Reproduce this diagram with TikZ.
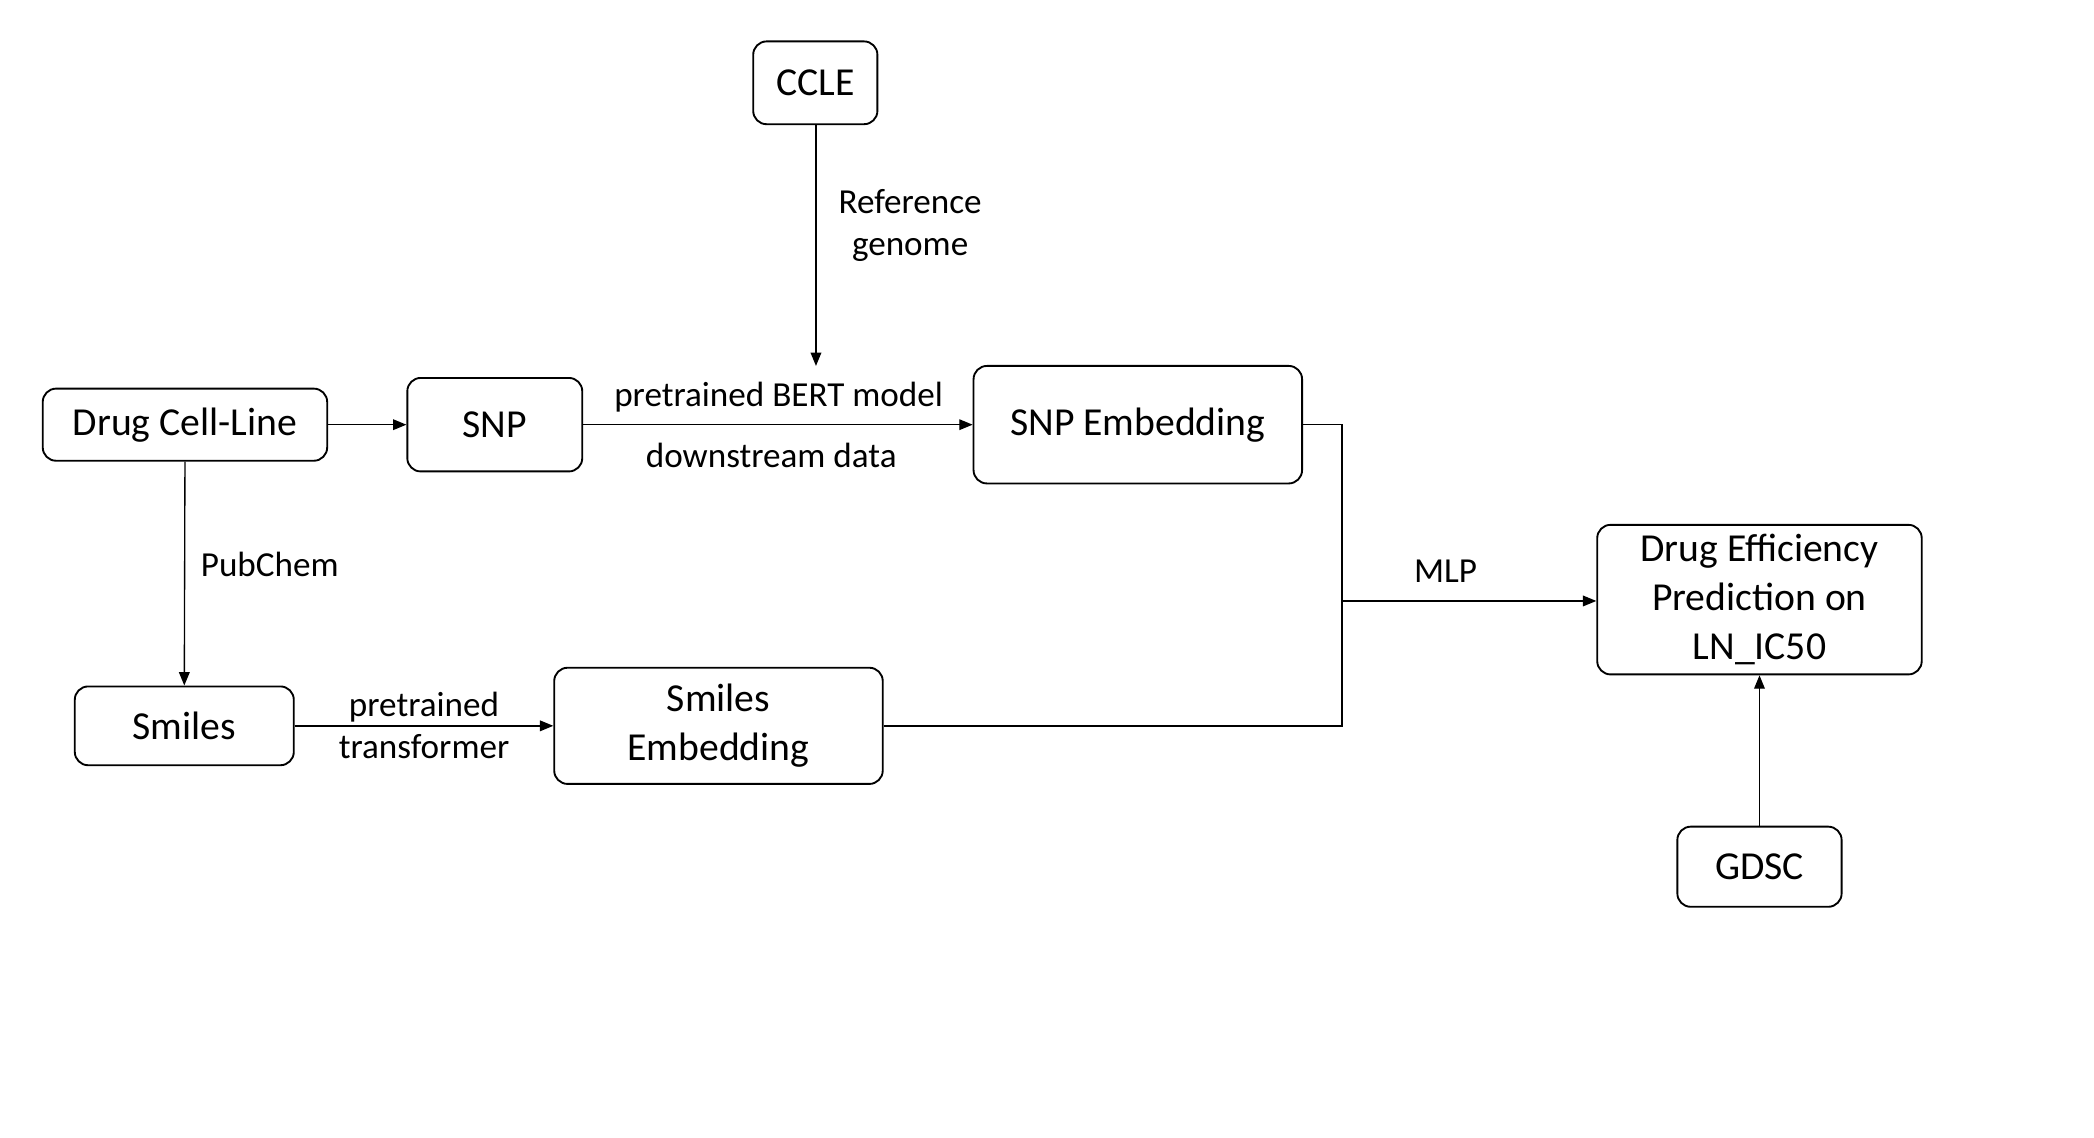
\documentclass[tikz,border=0pt]{standalone}
\usepackage{fontspec}
\setmainfont{Carlito}
\usetikzlibrary{arrows.meta}
\begin{document}
\begin{tikzpicture}[x=1pt,y=-1pt,
  box/.style={draw, line width=1.4pt, rounded corners=10pt, inner sep=0pt,
    font=\fontsize{29.7}{36.5}\selectfont, align=center},
  lbl/.style={font=\fontsize{26.3}{31.5}\selectfont, align=center, inner sep=0pt},
  arr/.style={line width=1pt, -{Triangle[length=10pt,width=8pt]}},
  con/.style={line width=1pt}]
\useasboundingbox (0,0) rectangle (1568,852);
% boxes
\node[box, minimum width=93pt, minimum height=62pt] (ccle) at (610.5,62) {CCLE};
\node[box, minimum width=213pt, minimum height=54pt] (dcl) at (138.5,318) {Drug Cell-Line};
\node[box, minimum width=131pt, minimum height=70pt] (snp) at (370.5,318) {SNP};
\node[box, minimum width=246pt, minimum height=88pt] (snpemb) at (852,318) {SNP Embedding};
\node[box, minimum width=164pt, minimum height=59pt] (smiles) at (138,543.5) {Smiles};
\node[box, minimum width=246pt, minimum height=87pt] (smemb) at (538,543.5) {Smiles\\Embedding};
\node[box, minimum width=243pt, minimum height=112pt] (pred) at (1317.5,449) {Drug Efficiency\\Prediction on\\LN\_IC50};
\node[box, minimum width=123pt, minimum height=60pt] (gdsc) at (1317.5,649) {GDSC};
% coordinates
\coordinate (cclend) at (611,274);
\coordinate (merge) at (1005,450);
% connectors
\draw[arr] (ccle.south -| cclend) -- (cclend);
\draw[arr] (dcl.east) -- (snp.west);
\draw[arr] (snp.east) -- (snpemb.west);
\draw[arr] (dcl.south) -- (smiles.north);
\draw[arr] (smiles.east) -- (smemb.west);
\draw[con] (snpemb.east) -| (merge);
\draw[con] (smemb.east) -| (merge);
\draw[arr] (merge) -- (merge -| pred.west);
\draw[arr] (gdsc.north) -- (pred.south);
% labels
\node[lbl] (lref) at (681.5,169) {Reference\\genome};
\node[lbl] (lbert) at (583,297) {pretrained BERT model};
\node[lbl] (ldown) at (577.5,341) {downstream data};
\node[lbl] (lpub) at (202,423) {PubChem};
\node[lbl] (ltrans) at (317.5,543.5) {pretrained\\transformer};
\node[lbl] (lmlp) at (1082.5,428) {MLP};
\end{tikzpicture}
\end{document}
